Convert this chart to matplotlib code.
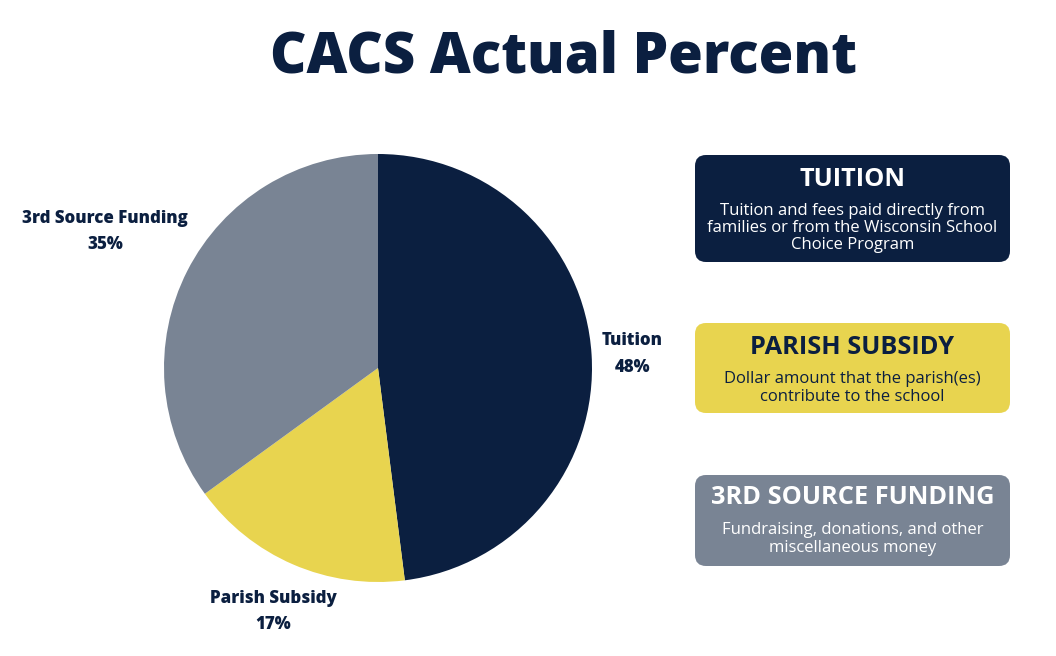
import matplotlib
matplotlib.use("Agg")
import matplotlib.pyplot as plt
import numpy as np
from matplotlib.patches import FancyBboxPatch

categories = ["Tuition", "Parish Subsidy", "3rd Source Funding"]
percents = [48, 17, 35]
colors = ["#0b1f40", "#e8d44f", "#798494"]
box_titles = ["TUITION", "PARISH SUBSIDY", "3RD SOURCE FUNDING"]
box_texts = [
    "Tuition and fees paid directly from\nfamilies or from the Wisconsin School\nChoice Program",
    "Dollar amount that the parish(es)\ncontribute to the school",
    "Fundraising, donations, and other\nmiscellaneous money",
]
title = "CACS Actual Percent"

plt.rcParams['font.family'] = ['Open Sans', 'DejaVu Sans']
W, H = 1056, 656
fig = plt.figure(figsize=(W / 100, H / 100), dpi=100)
fig.patch.set_facecolor("white")

# overlay axes in pixel coordinates
bg = fig.add_axes([0, 0, 1, 1])
bg.set_xlim(0, W)
bg.set_ylim(H, 0)
bg.axis("off")

navy = "#0b1f40"
bg.text(563, 58, title, ha="center", va="center", fontsize=40.5,
        fontweight="heavy", color=navy)

# pie axes
cx, cy, r = 378, 368, 214
pax = fig.add_axes([(cx - r) / W, (H - cy - r) / H, 2 * r / W, 2 * r / H])
wedges, _ = pax.pie(percents, colors=colors, startangle=90, counterclock=False,
                    radius=1, wedgeprops=dict(linewidth=0))
pax.set_xlim(-1, 1)
pax.set_ylim(-1, 1)
pax.set_aspect("equal")
pax.axis("off")

label_dist = [1.19, 1.23, 1.43]
for w, cat, p, d in zip(wedges, categories, percents, label_dist):
    ang = np.deg2rad((w.theta1 + w.theta2) / 2)
    pax.text(d * np.cos(ang), d * np.sin(ang) - 0.01, f"{cat}\n{p}%", ha="center",
             va="center", fontsize=12.2, fontweight="heavy", color=navy,
             linespacing=1.72, clip_on=False)

# boxes
box_y = [(155, 262), (323, 413), (475, 566)]
head_y = [180, 347, 498]
body_y = [228, 388, 539]
title_colors = ["white", navy, "white"]
body_colors = ["white", navy, "white"]
bx0, bx1 = 695, 1010
for (y0, y1), col, bt, tx, hy, by, tc, bc in zip(box_y, colors, box_titles, box_texts,
                                                 head_y, body_y, title_colors, body_colors):
    pad = 11
    patch = FancyBboxPatch((bx0 + pad, y0 + pad), bx1 - bx0 - 2 * pad, y1 - y0 - 2 * pad,
                           boxstyle=f"round,pad={pad},rounding_size={pad}",
                           facecolor=col, edgecolor="none")
    bg.add_patch(patch)
    bg.text((bx0 + bx1) / 2, hy, bt, ha="center", va="center", fontsize=18.3,
            fontweight="bold", color=tc)
    bg.text((bx0 + bx1) / 2, by, tx, ha="center", va="center", fontsize=12,
            color=bc, linespacing=1.1)

fig.savefig("out.png", dpi=100, facecolor="white")
